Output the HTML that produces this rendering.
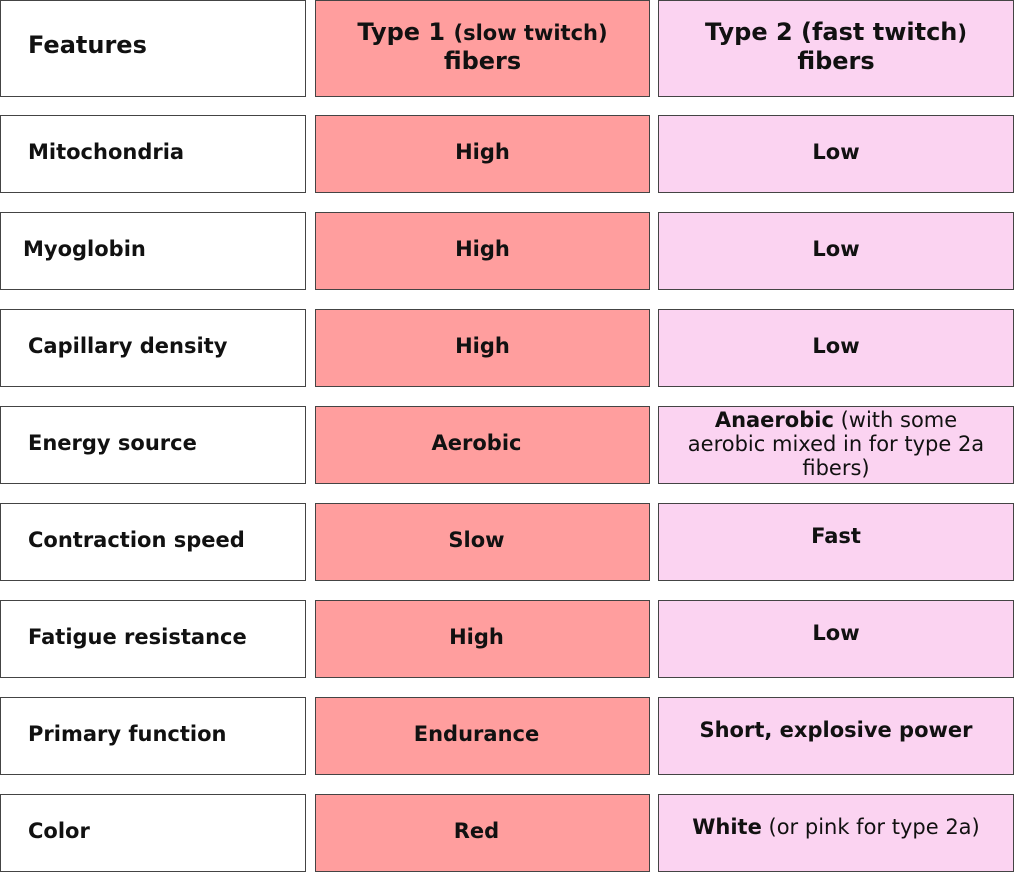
<!DOCTYPE html>
<html><head><meta charset="utf-8"><style>
body{margin:0;width:1024px;height:872px;background:#fff;position:relative;overflow:hidden;font-family:"DejaVu Sans","Liberation Sans",sans-serif;}
.b{position:absolute;box-sizing:border-box;border:1.5px solid #444;display:flex;align-items:center;color:#111;font-size:21px;line-height:24px;padding-bottom:5px}
.c1{left:0;width:306px;background:#fff;padding-left:27px;font-weight:bold}
.c2{left:315px;width:335px;background:#ff9e9e;justify-content:center;text-align:center;font-weight:bold}
.c3{left:658px;width:356px;background:#fbd3f1;justify-content:center;text-align:center}
b{font-weight:bold}
.h{font-size:24px;line-height:28px;padding-bottom:4px}
</style></head><body>
<div class="b c1 h" style="top:0;height:97px;padding-bottom:8px">Features</div>
<div class="b c2 h" style="top:0;height:97px"><div>Type 1 <span style="font-size:21px">(slow twitch)</span><br>fibers</div></div>
<div class="b c3 h" style="top:0;height:97px"><div><b>Type 2 (fast twitch<span style="font-size:21px">)</span><br>fibers</b></div></div>

<div class="b c1" style="top:115px;height:78px">Mitochondria</div>
<div class="b c2" style="top:115px;height:78px">High</div>
<div class="b c3" style="top:115px;height:78px"><b>Low</b></div>

<div class="b c1" style="top:212px;height:78px;padding-left:22px">Myoglobin</div>
<div class="b c2" style="top:212px;height:78px">High</div>
<div class="b c3" style="top:212px;height:78px"><b>Low</b></div>

<div class="b c1" style="top:309px;height:78px">Capillary density</div>
<div class="b c2" style="top:309px;height:78px">High</div>
<div class="b c3" style="top:309px;height:78px"><b>Low</b></div>

<div class="b c1" style="top:406px;height:78px">Energy source</div>
<div class="b c2" style="top:406px;height:78px;padding-right:12px">Aerobic</div>
<div class="b c3" style="top:406px;height:78px;padding-bottom:2px"><div><b>Anaerobic</b> (with some<br>aerobic mixed in for type 2a<br>fibers)</div></div>

<div class="b c1" style="top:503px;height:78px">Contraction speed</div>
<div class="b c2" style="top:503px;height:78px;padding-right:12px">Slow</div>
<div class="b c3" style="top:503px;height:78px;align-items:flex-start;padding-top:20px"><b>Fast</b></div>

<div class="b c1" style="top:600px;height:78px">Fatigue resistance</div>
<div class="b c2" style="top:600px;height:78px;padding-right:12px">High</div>
<div class="b c3" style="top:600px;height:78px;align-items:flex-start;padding-top:20px"><b>Low</b></div>

<div class="b c1" style="top:697px;height:78px">Primary function</div>
<div class="b c2" style="top:697px;height:78px;padding-right:12px">Endurance</div>
<div class="b c3" style="top:697px;height:78px;align-items:flex-start;padding-top:20px"><b>Short, explosive power</b></div>

<div class="b c1" style="top:794px;height:78px">Color</div>
<div class="b c2" style="top:794px;height:78px;padding-right:12px">Red</div>
<div class="b c3" style="top:794px;height:78px;align-items:flex-start;padding-top:20px"><div><b>White</b> (or pink for type 2a)</div></div>
</body></html>
